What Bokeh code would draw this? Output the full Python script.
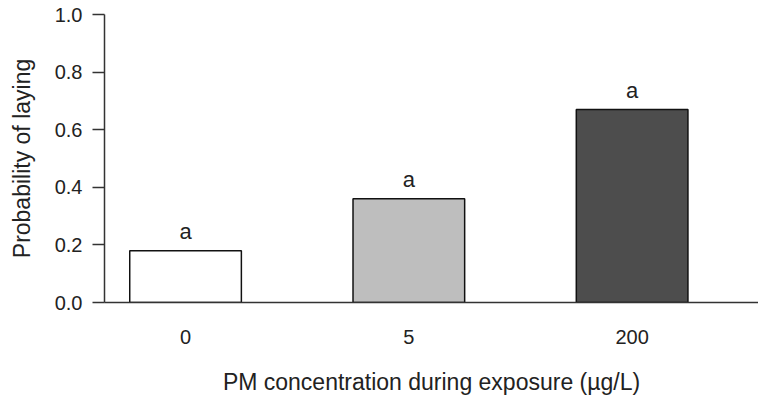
from bokeh.plotting import figure
from bokeh.models import ColumnDataSource, FixedTicker, NumeralTickFormatter, Range1d
from bokeh.core.properties import value
from bokeh.embed import file_html
from bokeh.resources import INLINE

# Exposure groups and their laying probabilities
concentrations = ["0", "5", "200"]
probability = [0.18, 0.36, 0.67]
letters = ["a", "a", "a"]
fills = ["#FFFFFF", "#BEBEBE", "#4D4D4D"]

positions = [i + 1 for i in range(len(concentrations))]

src = ColumnDataSource(dict(x=positions, top=probability, lab=letters, fill=fills))

FONT = "Liberation Sans"
INK = "#222222"

p = figure(
    width=758, height=401,
    output_backend="svg", toolbar_location=None,
    x_range=Range1d(0.637, 3.566), y_range=Range1d(0, 1.0),
    min_border_left=104, min_border_right=0,
    min_border_top=14, min_border_bottom=99,
    frame_width=654, frame_height=288,
)
p.outline_line_color = None
p.xgrid.visible = False
p.ygrid.visible = False
p.background_fill_color = "white"
p.border_fill_color = "white"

p.vbar(x="x", top="top", bottom=0, width=0.5, source=src,
       fill_color="fill", line_color="#111111", line_width=1.5)

p.text(x="x", y="top", text="lab", source=src,
       text_align="center", text_baseline="alphabetic", y_offset=-19,
       text_font=value(FONT), text_font_size="22px", text_color=INK)

# y axis
ya = p.yaxis[0]
ya.ticker = FixedTicker(ticks=[0.0, 0.2, 0.4, 0.6, 0.8, 1.0])
ya.formatter = NumeralTickFormatter(format="0.0")
ya.major_tick_out = 12
ya.major_tick_in = 0
ya.minor_tick_out = 0
ya.minor_tick_in = 0
ya.major_label_standoff = 10
ya.axis_label = "Probability of laying"
ya.axis_label_text_font = FONT
ya.axis_label_text_font_size = "23px"
ya.axis_label_text_font_style = "normal"
ya.axis_label_text_color = INK
ya.axis_label_standoff = 17
ya.major_label_text_font = FONT
ya.major_label_text_font_size = "20px"
ya.major_label_text_color = INK
ya.axis_line_color = "#333333"
ya.axis_line_width = 1.5
ya.major_tick_line_color = "#333333"
ya.major_tick_line_width = 1.5

# x axis: baseline with category labels
xa = p.xaxis[0]
xa.ticker = FixedTicker(ticks=positions)
xa.major_label_overrides = {pos: c for pos, c in zip(positions, concentrations)}
xa.major_tick_out = 0
xa.major_tick_in = 0
xa.minor_tick_out = 0
xa.minor_tick_in = 0
xa.major_label_standoff = 27
xa.axis_label = "PM concentration during exposure (\u00b5g/L)"
xa.axis_label_text_font = FONT
xa.axis_label_text_font_size = "23px"
xa.axis_label_text_font_style = "normal"
xa.axis_label_text_color = INK
xa.axis_label_standoff = 22
xa.major_label_text_font = FONT
xa.major_label_text_font_size = "20px"
xa.major_label_text_color = INK
xa.axis_line_color = "#333333"
xa.axis_line_width = 1.5

open("out.html", "w").write(file_html(p, INLINE))
